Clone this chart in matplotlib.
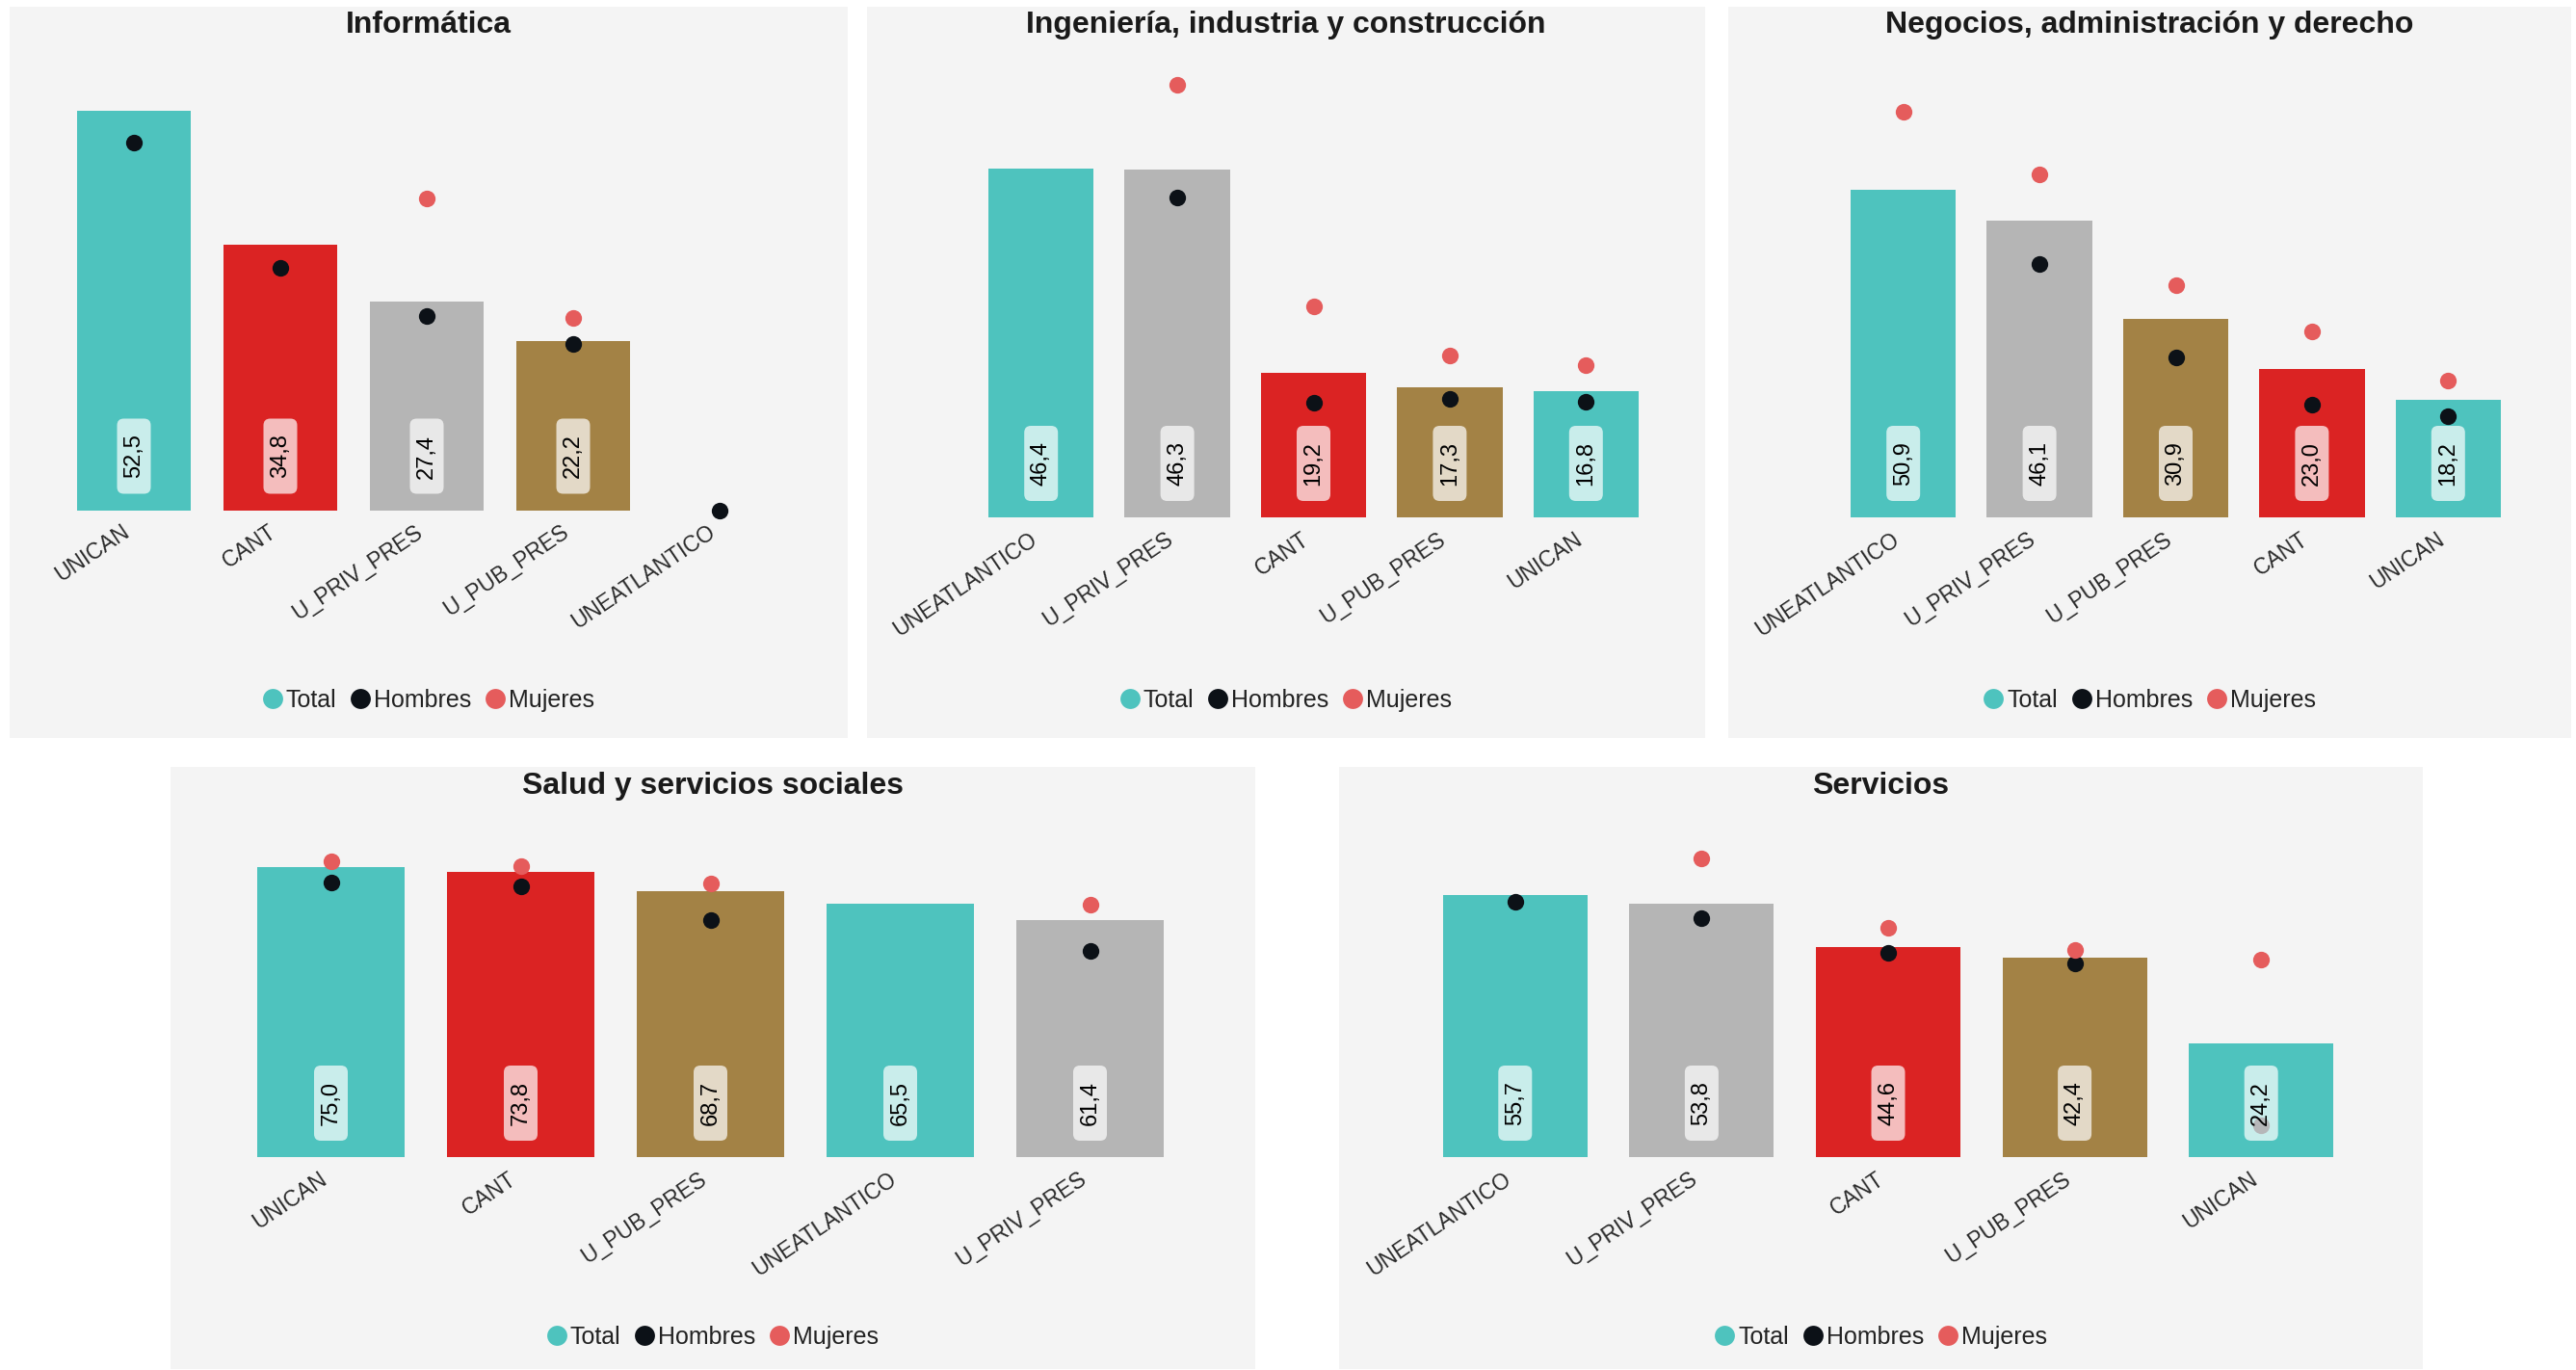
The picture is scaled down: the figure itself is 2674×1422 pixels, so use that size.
import numpy as np
import matplotlib.pyplot as plt
import matplotlib.transforms as mtransforms
from matplotlib.patches import Rectangle, FancyBboxPatch
from matplotlib.lines import Line2D

plt.rcParams['font.family'] = ['Liberation Sans', 'DejaVu Sans']

nan = np.nan

# DATA (percent)
titles = ["Informática",
          "Ingeniería, industria y construcción",
          "Negocios, administración y derecho",
          "Salud y servicios sociales",
          "Servicios"]

unis_inf = ["UNICAN", "CANT", "U_PRIV_PRES", "U_PUB_PRES", "UNEATLANTICO"]
total_inf = [52.5, 34.8, 27.4, 22.2, nan]
hombres_inf = [48.3, 31.8, 25.5, 21.8, 0.0]
mujeres_inf = [nan, nan, 40.9, 25.2, nan]

unis_ing = ["UNEATLANTICO", "U_PRIV_PRES", "CANT", "U_PUB_PRES", "UNICAN"]
total_ing = [46.4, 46.3, 19.2, 17.3, 16.8]
hombres_ing = [nan, 42.5, 15.3, 15.8, 15.4]
mujeres_ing = [nan, 57.5, 28.1, 21.5, 20.3]

unis_neg = ["UNEATLANTICO", "U_PRIV_PRES", "U_PUB_PRES", "CANT", "UNICAN"]
total_neg = [50.9, 46.1, 30.9, 23.0, 18.2]
hombres_neg = [nan, 39.4, 24.9, 17.5, 15.7]
mujeres_neg = [63.0, 53.3, 36.1, 28.9, 21.3]

unis_sal = ["UNICAN", "CANT", "U_PUB_PRES", "UNEATLANTICO", "U_PRIV_PRES"]
total_sal = [75.0, 73.8, 68.7, 65.5, 61.4]
hombres_sal = [71.1, 70.1, 61.3, nan, 53.4]
mujeres_sal = [76.6, 75.3, 70.8, nan, 65.3]

unis_ser = ["UNEATLANTICO", "U_PRIV_PRES", "CANT", "U_PUB_PRES", "UNICAN"]
total_ser = [55.7, 53.8, 44.6, 42.4, 24.2]
hombres_ser = [54.3, 50.7, 43.5, 41.1, 6.7]
mujeres_ser = [nan, 63.4, 48.8, 44.0, 42.0]

# COLOURS
uni_colors = {"UNICAN": "#4ec3be", "CANT": "#db2323", "U_PRIV_PRES": "#b5b5b5",
              "U_PUB_PRES": "#a38245", "UNEATLANTICO": "#4ec3be"}
c_hombres = "#0c1117"
c_mujeres = "#e55c5c"
c_panel = "#f4f4f4"

# LAYOUT (pixels): panel box, axes box (left, top, right, bottom), y max
W, H = 2674, 1422
panels = [(10, 7, 880, 766), (900, 7, 1770, 766), (1794, 7, 2669, 766),
          (177, 796, 1303, 1421), (1390, 796, 2515, 1421)]
axboxes = [(63, 60, 823, 529.5), (1010, 60, 1717, 537), (1905, 60, 2612, 537),
           (245, 850, 1230, 1201), (1476, 850, 2444, 1201)]
ytops = [59.4, 61.1, 71.4, 87.5, 71.9]
title_y = [26, 26, 26, 816, 816]
legend_y = [727, 727, 727, 1388, 1388]

data = [(unis_inf, total_inf, hombres_inf, mujeres_inf),
        (unis_ing, total_ing, hombres_ing, mujeres_ing),
        (unis_neg, total_neg, hombres_neg, mujeres_neg),
        (unis_sal, total_sal, hombres_sal, mujeres_sal),
        (unis_ser, total_ser, hombres_ser, mujeres_ser)]

fig = plt.figure(figsize=(W / 100, H / 100), dpi=100)
fig.patch.set_facecolor("white")

for k in range(5):
    unis, total, hombres, mujeres = data[k]
    px0, py0, px1, py1 = panels[k]
    fig.add_artist(Rectangle((px0 / W, 1 - py1 / H), (px1 - px0) / W, (py1 - py0) / H,
                             transform=fig.transFigure, facecolor=c_panel,
                             edgecolor="none", zorder=0))

    l, t, r, b = axboxes[k]
    ax = fig.add_axes([l / W, 1 - b / H, (r - l) / W, (b - t) / H])
    ax.set_facecolor("none")

    x = np.arange(len(unis))
    total = np.array(total)
    hombres = np.array(hombres)
    mujeres = np.array(mujeres)

    has = ~np.isnan(total)
    ax.bar(x[has], total[has], width=0.775,
           color=[uni_colors[u] for u, h in zip(unis, has) if h], zorder=1)

    ax.scatter(x, hombres, s=155, color=c_hombres, zorder=2, clip_on=False, linewidths=0)
    ax.scatter(x, mujeres, s=155, color=c_mujeres, zorder=2, clip_on=False, linewidths=0)

    ax.set_xlim(-0.5, len(unis) - 0.5)
    ax.set_ylim(0, ytops[k])

    # value labels in rounded boxes near the bar base
    for i in x[has]:
        trans = mtransforms.IdentityTransform() + \
            mtransforms.ScaledTranslation(i, 0, ax.transData)
        box = FancyBboxPatch((-17.5, 17), 35, 78,
                             boxstyle="round,pad=0,rounding_size=7",
                             transform=trans, facecolor="white", alpha=0.7,
                             edgecolor="none", zorder=3)
        ax.add_patch(box)
        ax.text(0, 17 + 39, f"{total[i]:.1f}".replace(".", ","), transform=trans,
                rotation=90, ha="center", va="center", fontsize=17,
                color="black", zorder=4)

    ax.set_xticks(x)
    ax.set_xticklabels(unis, rotation=34, ha="right", fontsize=16.5, color="#2a2a2a")
    ax.tick_params(axis="x", length=0, pad=8)
    ax.set_yticks([])
    for sp in ax.spines.values():
        sp.set_visible(False)

    cx = (px0 + px1) / 2
    fig.text(cx / W, 1 - title_y[k] / H, titles[k], ha="center", va="center",
             fontsize=23, fontweight="bold", color="#1a1a1a")

    handles = [Line2D([], [], marker="o", ls="none", markersize=15, color=c, markeredgewidth=0)
               for c in [uni_colors["UNICAN"], c_hombres, c_mujeres]]
    ax.legend(handles, ["Total", "Hombres", "Mujeres"], ncol=3, frameon=False,
              loc="center", bbox_to_anchor=(cx / W, 1 - legend_y[k] / H),
              bbox_transform=fig.transFigure, fontsize=18, handlelength=0.8,
              handletextpad=0.15, columnspacing=0.6, labelcolor="#222222")

fig.savefig("out.png", dpi=100, facecolor="white")
